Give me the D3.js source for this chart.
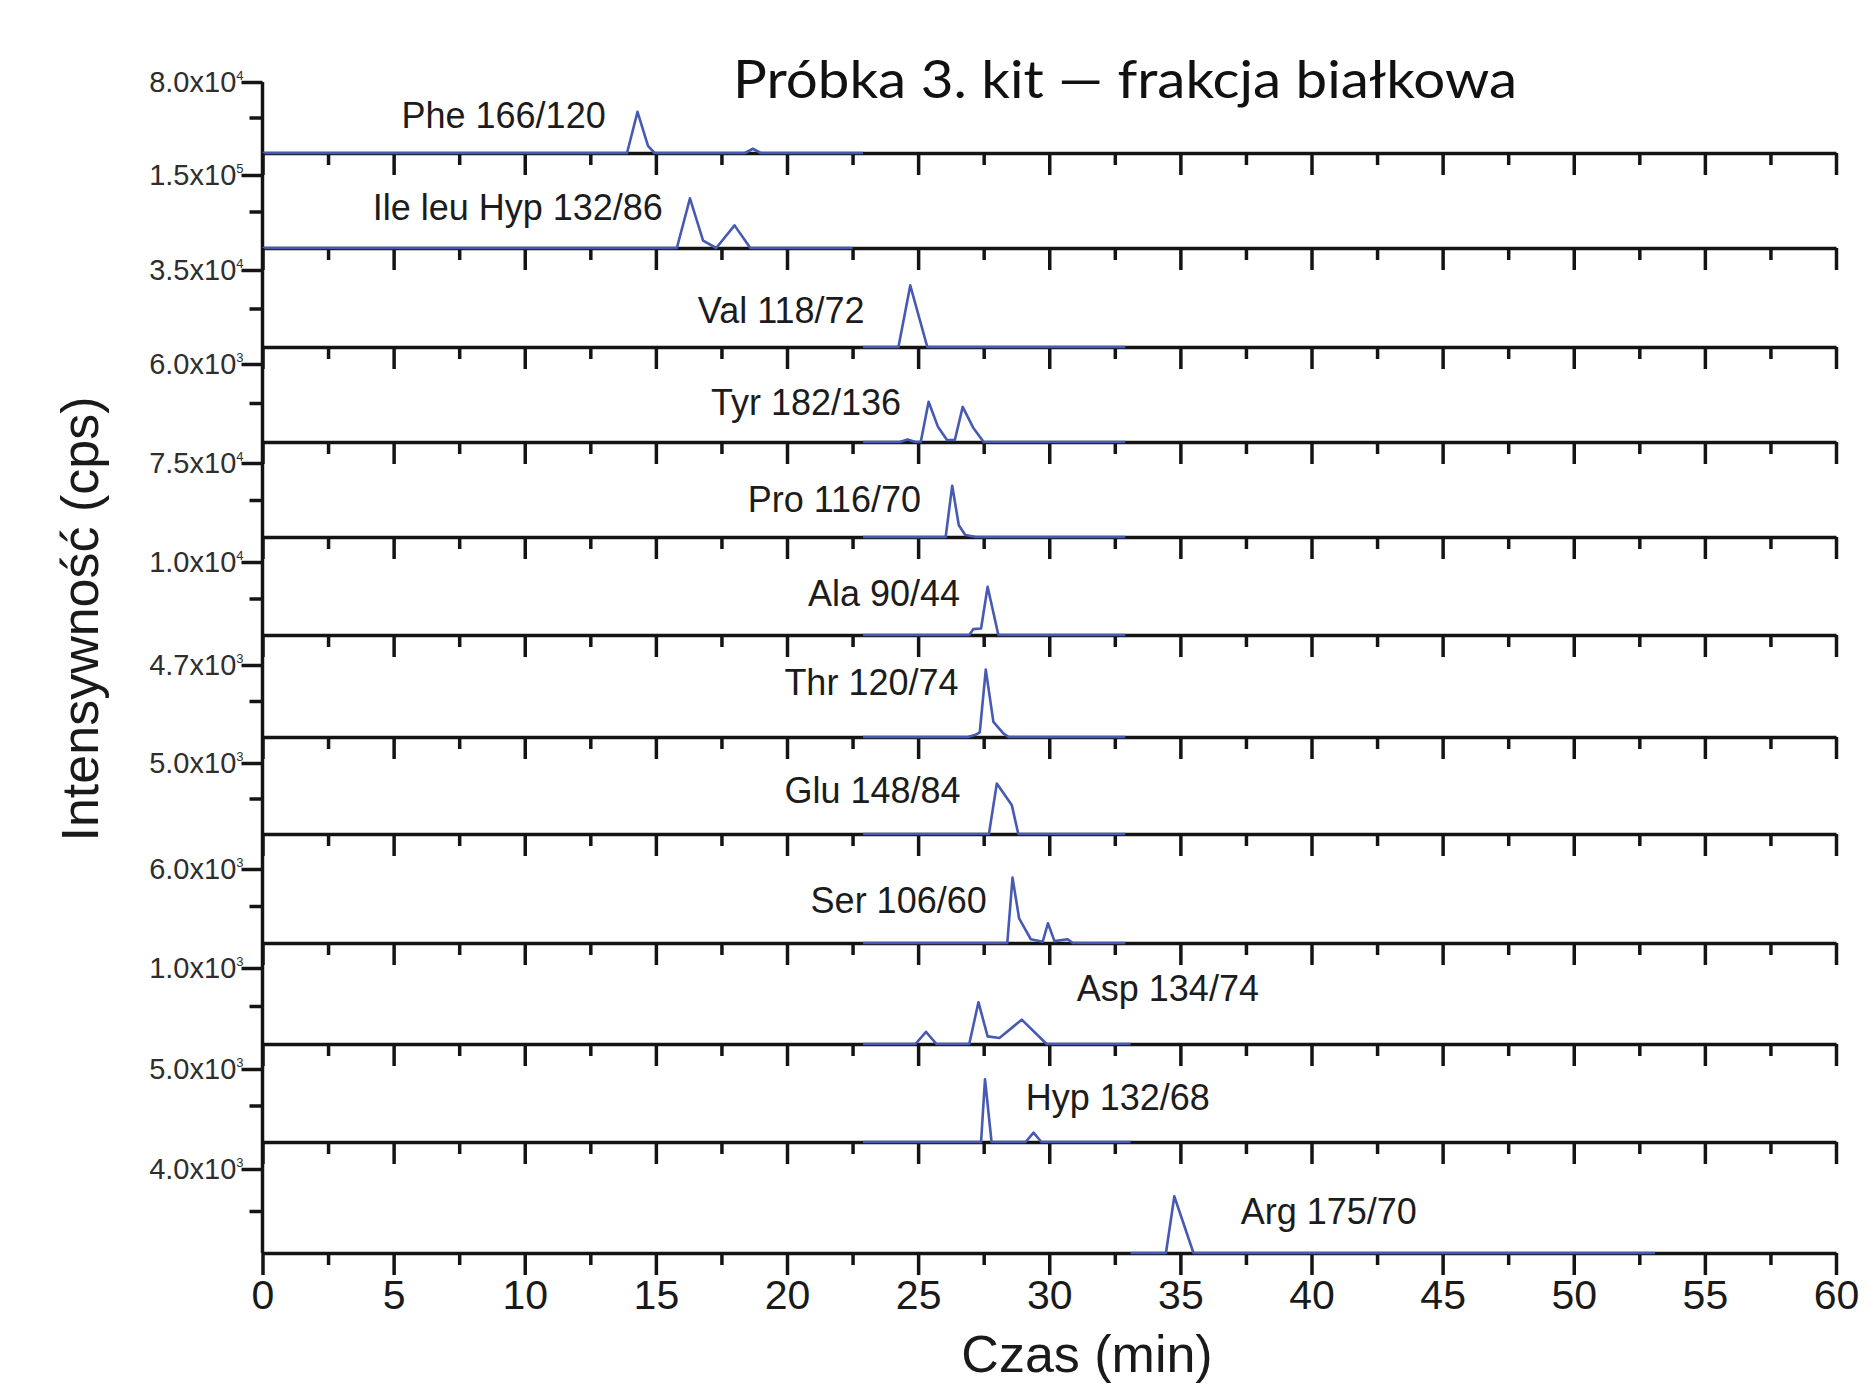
<!DOCTYPE html>
<html>
<head>
<meta charset="utf-8">
<script src="https://cdn.jsdelivr.net/npm/d3@7"></script>
<style>
    html, body { margin: 0; padding: 0; background: #fff; }
    svg { display: block; }
</style>
</head>
<body>
<div id="chart"></div>
<script>
// panel names (compound + MRM transition), top to bottom
const compounds = ["Phe 166/120", "Ile leu Hyp 132/86", "Val 118/72", "Tyr 182/136", "Pro 116/70", "Ala 90/44",
    "Thr 120/74", "Glu 148/84", "Ser 106/60", "Asp 134/74", "Hyp 132/68", "Arg 175/70"];

// full scale of every panel (cps)
const y_max = [8.0e4, 1.5e5, 3.5e4, 6.0e3, 7.5e4, 1.0e4, 4.7e3, 5.0e3, 6.0e3, 1.0e3, 5.0e3, 4.0e3];

// where each label sits, in data units (min, cps)
const label_time = [5.3, 4.2, 16.6, 17.1, 18.5, 20.8, 19.9, 19.9, 20.9, 31.05, 29.1, 37.3];
const label_level = [28000, 57000, 10900, 2100, 25500, 4000, 2730, 2150, 2460, 560, 2200, 1400];

// chromatograms [time (min), intensity (cps)]
const phe_trace = [[0, 0], [13.9, 0], [14.3, 46400], [14.7, 8000], [14.95, 0], [18.4, 0], [18.7, 4800], [19.0, 0], [22.9, 0]];
const ile_trace = [[0, 0], [15.8, 0], [16.3, 102000], [16.8, 15000], [17.3, 0], [18.0, 46500], [18.6, 0], [22.5, 0]];
const val_trace = [[22.9, 0], [24.25, 0], [24.7, 28000], [25.35, 0], [32.9, 0]];
const tyr_trace = [[22.9, 0], [24.3, 0], [24.6, 200], [24.9, 0], [25.1, 0], [25.4, 3100], [25.75, 1200], [26.1, 150],
    [26.4, 150], [26.7, 2700], [27.1, 1100], [27.5, 0], [32.9, 0]];
const pro_trace = [[22.9, 0], [26.05, 0], [26.3, 52000], [26.55, 12000], [26.8, 2000], [27.2, 0], [32.9, 0]];
const ala_trace = [[22.9, 0], [26.95, 0], [27.1, 800], [27.4, 900], [27.65, 6600], [28.06, 0], [32.9, 0]];
const thr_trace = [[22.9, 0], [26.9, 0], [27.2, 150], [27.35, 300], [27.58, 4400], [27.87, 990], [28.25, 235], [28.45, 0], [32.9, 0]];
const glu_trace = [[22.9, 0], [27.7, 0], [28.0, 3550], [28.57, 2050], [28.82, 0], [32.9, 0]];
const ser_trace = [[22.9, 0], [28.4, 0], [28.6, 5300], [28.85, 2000], [29.3, 300], [29.75, 100], [29.95, 1600], [30.2, 150],
    [30.7, 300], [30.9, 0], [32.9, 0]];
const asp_trace = [[22.9, 0], [24.9, 0], [25.3, 160], [25.7, 0], [26.95, 0], [27.3, 550], [27.65, 100], [28.1, 80],
    [28.95, 320], [29.9, 0], [33.1, 0]];
const hyp_trace = [[22.9, 0], [27.4, 0], [27.55, 4300], [27.8, 0], [29.1, 0], [29.4, 640], [29.7, 0], [33.1, 0]];
const arg_trace = [[33.1, 0], [34.45, 0], [34.77, 2700], [35.5, 0], [53.1, 0]];

const traces = [phe_trace, ile_trace, val_trace, tyr_trace, pro_trace, ala_trace,
    thr_trace, glu_trace, ser_trace, asp_trace, hyp_trace, arg_trace];

const x_ticks = d3.range(0, 61, 5);
const x_minor_ticks = d3.range(2.5, 60, 5);

document.addEventListener("DOMContentLoaded", function(event) {

    let dims = { width: 1868, height: 1385 };

    // panel layout: pixel rows of each stacked panel (top tick, baseline)
    let panel_top  = [82, 175, 270, 364, 463, 562, 665, 763, 869, 968, 1069, 1169];
    let panel_base = [153, 248, 347, 442, 537, 635, 737, 834, 943, 1044, 1142, 1253];

    let axis_color = "#141414";
    let trace_color = "#4659b3";

    let svg = d3.select("#chart")
        .append("svg")
            .attr("width", dims.width)
            .attr("height", dims.height)
            .style("font-family", "'Liberation Sans', Arial, sans-serif");

    let x = d3.scaleLinear()
        .domain([0, 60])
        .range([262.5, 1836]);

    let last = compounds.length - 1;

    compounds.forEach(function(name, i) {
        let y = d3.scaleLinear()
            .domain([0, y_max[i]])
            .range([panel_base[i], panel_top[i]]);

        let panel = svg.append("g").attr("class", "panel");

        // vertical axis line, joined to the panel above
        panel.append("line")
            .attr("x1", x(0)).attr("x2", x(0))
            .attr("y1", i === 0 ? y(y_max[i]) : panel_base[i - 1])
            .attr("y2", y(0))
            .attr("stroke", axis_color)
            .attr("stroke-width", 3.5);

        // major y tick with label
        let y_axis = panel.append("g")
            .attr("transform", "translate(" + x(0) + ",0)")
            .call(d3.axisLeft(y).tickValues([y_max[i]]).tickSize(21).tickFormat(""));
        y_axis.select(".domain").remove();
        y_axis.selectAll("line").attr("stroke", axis_color).attr("stroke-width", 3.5);

        // minor y tick at half scale
        let y_minor = panel.append("g")
            .attr("transform", "translate(" + x(0) + ",0)")
            .call(d3.axisLeft(y).tickValues([y_max[i] / 2]).tickSize(13).tickFormat(""));
        y_minor.select(".domain").remove();
        y_minor.selectAll("line").attr("stroke", axis_color).attr("stroke-width", 3.5);

        let exp = Math.floor(Math.log10(y_max[i]));
        let mant = y_max[i] / Math.pow(10, exp);
        let tick_label = panel.append("text")
            .attr("x", x(0) - 19)
            .attr("y", y(y_max[i]))
            .attr("text-anchor", "end")
            .attr("fill", "#2e2e2e")
            .style("font-size", "29px");
        tick_label.append("tspan")
            .attr("dy", "0.36em")
            .text(mant.toFixed(1) + "x10");
        tick_label.append("tspan")
            .attr("dy", "-12")
            .style("font-size", "13px")
            .text(exp);

        // x axis of the panel, ticks pointing down
        let x_axis = panel.append("g")
            .attr("transform", "translate(0," + y(0) + ")")
            .style("font-size", "41px")
            .call(d3.axisBottom(x).tickValues(x_ticks).tickSize(22).tickSizeOuter(0).tickPadding(5)
                .tickFormat(i === last ? d3.format("d") : ""));
        x_axis.select(".domain").attr("stroke", axis_color).attr("stroke-width", 3.5);
        x_axis.selectAll("line").attr("stroke", axis_color).attr("stroke-width", 3.5);
        x_axis.selectAll("text").attr("fill", "#1a1a1a").style("font-family", "'Liberation Sans', Arial, sans-serif");

        let x_minor = panel.append("g")
            .attr("transform", "translate(0," + y(0) + ")")
            .call(d3.axisBottom(x).tickValues(x_minor_ticks).tickSize(12).tickFormat(""));
        x_minor.select(".domain").remove();
        x_minor.selectAll("line").attr("stroke", axis_color).attr("stroke-width", 3.5);

        // chromatogram
        let line = d3.line()
            .x(d => x(d[0]))
            .y(d => y(d[1]));

        panel.append("path")
            .datum(traces[i])
            .attr("d", line)
            .attr("fill", "none")
            .attr("stroke", trace_color)
            .attr("stroke-width", 2.6)
            .attr("stroke-linejoin", "round");

        panel.append("text")
            .attr("x", x(label_time[i]))
            .attr("y", y(label_level[i]))
            .attr("fill", "#1c1c1c")
            .style("font-size", "36px")
            .text(name);
    });

    // title
    svg.append("text")
        .attr("x", 733)
        .attr("y", 98)
        .attr("textLength", 784)
        .attr("lengthAdjust", "spacingAndGlyphs")
        .attr("fill", "#111")
        .style("font-family", "Lato, 'Noto Sans', sans-serif")
        .style("font-size", "52px")
        .text("Próbka 3. kit — frakcja białkowa");

    // axis titles
    svg.append("text")
        .attr("x", 1087)
        .attr("y", 1372)
        .attr("text-anchor", "middle")
        .attr("fill", "#1a1a1a")
        .style("font-size", "52px")
        .text("Czas (min)");

    svg.append("text")
        .attr("transform", "translate(98,619) rotate(-90)")
        .attr("text-anchor", "middle")
        .attr("fill", "#1a1a1a")
        .style("font-size", "52px")
        .text("Intensywność (cps)");

});
</script>
</body>
</html>
